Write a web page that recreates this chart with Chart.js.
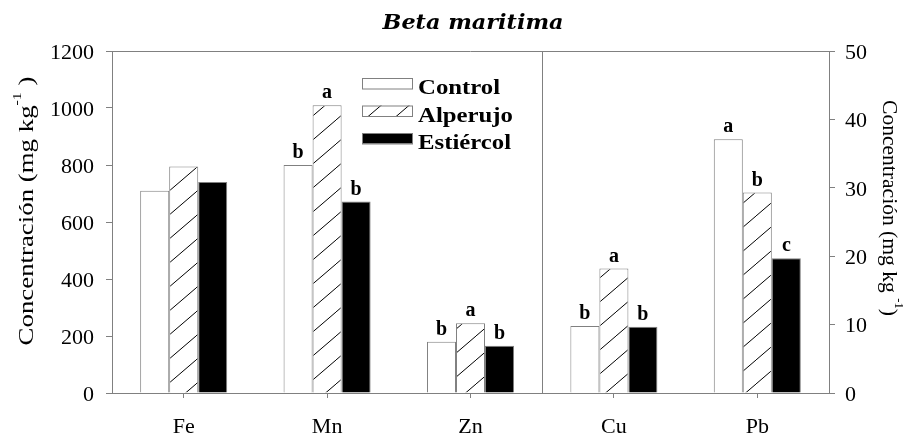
<!DOCTYPE html>
<html>
<head>
<meta charset="utf-8">
<script src="https://cdn.jsdelivr.net/npm/chart.js@4.4.0/dist/chart.umd.min.js"></script>
<style>
  html, body { margin: 0; padding: 0; background: #fff; }
  #wrap { width: 917px; height: 436px; }
  .preload { position: absolute; left: -9999px; top: 0; font-family: "Liberation Serif"; }
</style>
</head>
<body>
<div class="preload">Concentración <b>Control</b> <b><i>Beta</i></b></div>
<div id="wrap"><canvas id="c" width="917" height="436"></canvas></div>
<script>
// Categories (elements) and treatments
const categories = ['Fe', 'Mn', 'Zn', 'Cu', 'Pb'];
const seriesNames = ['Control', 'Alperujo', 'Estiércol'];

// Fe, Mn, Zn on the left axis (mg kg-1)
const controlLeft   = [710, 800, 180, null, null];
const alperujoLeft  = [795, 1010, 245, null, null];
const estiercolLeft = [740, 672, 166, null, null];

// Cu, Pb on the right axis (mg kg-1)
const controlRight   = [null, null, null, 9.8, 37.1];
const alperujoRight  = [null, null, null, 18.2, 29.3];
const estiercolRight = [null, null, null, 9.7, 19.7];

// Significance letters per treatment and element
const controlLetters   = ['', 'b', 'b', 'b', 'a'];
const alperujoLetters  = ['', 'a', 'a', 'a', 'b'];
const estiercolLetters = ['', 'b', 'b', 'b', 'c'];

// Axis ticks
const leftTicks  = [0, 200, 400, 600, 800, 1000, 1200];
const rightTicks = [0, 10, 20, 30, 40, 50];

const titleText = 'Beta maritima';
const axisTitleBase = 'Concentración (mg kg';

const GRAY = '#808080';
const SERIF = '"Liberation Serif"';

function makeHatch() {
  const w = 28, h = 24;
  const cv = document.createElement('canvas');
  cv.width = w; cv.height = h;
  const g = cv.getContext('2d');
  g.fillStyle = '#fff';
  g.fillRect(0, 0, w, h);
  g.strokeStyle = '#000';
  g.lineWidth = 1;
  g.beginPath();
  g.moveTo(-w / h, h + 1);
  g.lineTo(w + w / h, -1);
  g.stroke();
  return g.createPattern(cv, 'repeat');
}

function build() {
  const hatch = makeHatch();
  const fills = ['#ffffff', hatch, '#000000'];
  const leftData = [controlLeft, alperujoLeft, estiercolLeft];
  const rightData = [controlRight, alperujoRight, estiercolRight];
  const letters = [controlLetters, alperujoLetters, estiercolLetters];

  const datasets = [];
  seriesNames.forEach((name, i) => {
    datasets.push({
      label: name, data: leftData[i], yAxisID: 'y', stack: name,
      backgroundColor: fills[i], borderColor: GRAY, borderWidth: 1
    });
  });
  seriesNames.forEach((name, i) => {
    datasets.push({
      label: name, data: rightData[i], yAxisID: 'y1', stack: name,
      backgroundColor: fills[i], borderColor: GRAY, borderWidth: 1
    });
  });

  // Frame, divider, title, axis titles, legend and letters
  const decorations = {
    id: 'decorations',
    beforeDatasetsDraw(chart) {
      const { ctx, chartArea: a, scales: { x } } = chart;
      ctx.save();
      ctx.strokeStyle = GRAY;
      ctx.lineWidth = 1;
      ctx.beginPath();
      ctx.moveTo(a.left, a.top + 0.5);
      ctx.lineTo(a.right, a.top + 0.5);
      const xd = Math.round((x.getPixelForValue(2) + x.getPixelForValue(3)) / 2) + 0.5;
      ctx.moveTo(xd, a.top);
      ctx.lineTo(xd, a.bottom);
      ctx.stroke();
      ctx.restore();
    },
    afterDatasetsDraw(chart) {
      const { ctx } = chart;
      ctx.save();
      // letters above bars
      ctx.fillStyle = '#000';
      ctx.font = 'bold 20px ' + SERIF;
      ctx.textAlign = 'center';
      ctx.textBaseline = 'bottom';
      for (let s = 0; s < 3; s++) {
        categories.forEach((c, i) => {
          const txt = letters[s][i];
          if (!txt) return;
          const dsIndex = i < 3 ? s : s + 3;
          const el = chart.getDatasetMeta(dsIndex).data[i];
          ctx.fillText(txt, el.x, el.y - 2);
        });
      }

      // legend
      const lx = 362, ly = [78, 105.5, 133], bw = 50, bh = 10.5;
      seriesNames.forEach((name, i) => {
        ctx.fillStyle = fills[i];
        ctx.fillRect(lx, ly[i], bw, bh);
        ctx.strokeStyle = GRAY;
        ctx.lineWidth = 1;
        ctx.strokeRect(lx + 0.5, ly[i] + 0.5, bw, bh);
        ctx.save();
        ctx.fillStyle = '#000';
        ctx.font = 'bold 21px ' + SERIF;
        ctx.textAlign = 'left';
        ctx.textBaseline = 'alphabetic';
        ctx.translate(418, ly[i] + 16);
        ctx.scale(1.18, 1);
        ctx.fillText(name, 0, 0);
        ctx.restore();
      });

      // title
      ctx.fillStyle = '#000';
      ctx.font = 'bold italic 21px "DejaVu Serif"';
      ctx.textAlign = 'center';
      ctx.textBaseline = 'alphabetic';
      const tw = ctx.measureText(titleText).width;
      ctx.save();
      ctx.translate(473, 29);
      ctx.scale(181 / tw, 1);
      ctx.fillText(titleText, 0, 0);
      ctx.restore();

      // axis titles with superscript
      const drawAxisTitle = (cx, cy, angle, pre, sup, post, size, stretch) => {
        ctx.save();
        ctx.translate(cx, cy);
        ctx.rotate(angle);
        ctx.scale(stretch, 1);
        ctx.textAlign = 'left';
        ctx.textBaseline = 'middle';
        ctx.font = size + 'px ' + SERIF;
        const w1 = ctx.measureText(pre).width;
        const w3 = ctx.measureText(post).width;
        ctx.font = Math.round(size * 0.6) + 'px ' + SERIF;
        const w2 = ctx.measureText(sup).width;
        const total = w1 + w2 + w3;
        let px = -total / 2;
        ctx.font = size + 'px ' + SERIF;
        ctx.fillText(pre, px, 0);
        px += w1;
        ctx.font = Math.round(size * 0.6) + 'px ' + SERIF;
        ctx.fillText(sup, px, -size * 0.42);
        px += w2;
        ctx.font = size + 'px ' + SERIF;
        ctx.fillText(post, px, 0);
        ctx.restore();
      };
      drawAxisTitle(27, 211, -Math.PI / 2, axisTitleBase, '-1', ' )', 22, 1.22);
      drawAxisTitle(889, 208, Math.PI / 2, axisTitleBase + ' ', '-1', ')', 22, 0.98);
      ctx.restore();
    }
  };

  const tickFont = { family: SERIF, size: 22 };
  const plain = v => String(v);

  new Chart(document.getElementById('c'), {
    type: 'bar',
    data: { labels: categories, datasets },
    options: {
      responsive: false,
      animation: false,
      devicePixelRatio: 1,
      categoryPercentage: 0.607,
      barPercentage: 1.0,
      layout: { padding: { top: 51, left: 0, right: 0, bottom: 0 } },
      plugins: { legend: { display: false }, title: { display: false }, tooltip: { enabled: false } },
      scales: {
        x: {
          type: 'category',
          offset: true,
          grid: { offset: false, drawOnChartArea: false, tickLength: 5, color: GRAY },
          border: { color: GRAY },
          ticks: { font: tickFont, color: '#000', padding: 16, maxRotation: 0 },
          afterFit(s) { s.height = 43; }
        },
        y: {
          position: 'left',
          min: 0, max: 1200, stacked: false,
          afterBuildTicks(s) { s.ticks = leftTicks.map(v => ({ value: v })); },
          grid: { drawOnChartArea: false, tickLength: 6, color: GRAY },
          border: { color: GRAY },
          ticks: { font: tickFont, color: '#000', padding: 12, labelOffset: 2, callback: plain },
          afterFit(s) { s.width = 112; }
        },
        y1: {
          position: 'right',
          min: 0, max: 50, stacked: false,
          afterBuildTicks(s) { s.ticks = rightTicks.map(v => ({ value: v })); },
          grid: { drawOnChartArea: false, tickLength: 6, color: GRAY },
          border: { color: GRAY },
          ticks: { font: tickFont, color: '#000', padding: 10, labelOffset: 2, callback: plain },
          afterFit(s) { s.width = 88; }
        }
      }
    },
    plugins: [decorations]
  });
}

const fontLoads = [
  '22px "Liberation Serif"',
  'bold 21px "Liberation Serif"',
  'bold italic 21px "DejaVu Serif"'
].map(f => document.fonts.load(f).catch(() => null));
Promise.all(fontLoads).then(build, build);
</script>
</body>
</html>
